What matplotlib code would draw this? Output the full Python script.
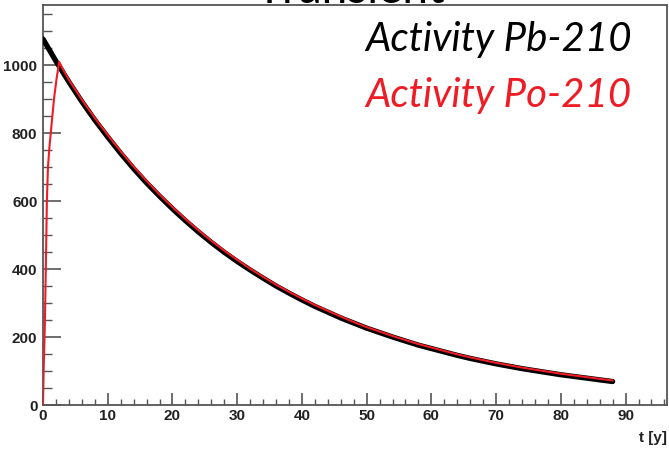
import matplotlib
matplotlib.use("Agg")
import matplotlib.pyplot as plt
from matplotlib.ticker import MultipleLocator

# time in years
t_pb = [0, 2, 4, 6, 8, 10, 12, 14, 16, 18, 20, 22, 24, 26, 28, 30, 32, 34, 36, 38,
        40, 42, 44, 46, 48, 50, 52, 54, 56, 58, 60, 62, 64, 66, 68, 70, 72, 74, 76,
        78, 80, 82, 84, 86, 88]
# activity Pb-210
act_pb = [1076, 1011, 950, 892, 838, 788, 740, 695, 653, 614, 577, 542, 509, 478, 449,
          422, 397, 373, 350, 329, 309, 290, 273, 256, 241, 226, 213, 200, 188, 176,
          166, 156, 146, 137, 129, 121, 114, 107, 101, 95, 89, 84, 79, 74, 69]

# activity Po-210: fast ingrowth, then follows Pb-210
t_po = [0, 0.1, 0.3, 0.45, 0.6, 0.77, 1.0, 1.2, 1.5, 1.7, 2.1, 2.5, 3, 4, 6, 8, 10, 12,
        14, 16, 18, 20, 22, 24, 26, 28, 30, 32, 34, 36, 38, 40, 42, 44, 46, 48, 50, 52,
        54, 56, 58, 60, 62, 64, 66, 68, 70, 72, 74, 76, 78, 80, 82, 84, 86, 88]
act_po = [0, 100, 250, 420, 600, 700, 760, 800, 860, 900, 960, 1009, 990, 956, 898, 844,
          794, 746, 701, 659, 619, 582, 547, 514, 483, 454, 427, 401, 377, 354, 333, 313,
          294, 277, 260, 244, 229, 216, 203, 191, 179, 169, 159, 149, 140, 132, 124, 117,
          110, 104, 98, 92, 87, 82, 77, 72]

fig = plt.figure(figsize=(6.69, 4.52), dpi=100)
ax = fig.add_axes([43 / 669, 46 / 452, 624 / 669, 400.3 / 452])

ax.plot(t_pb, act_pb, color='black', lw=3.8, solid_capstyle='round', zorder=3)
ax.plot(t_po, act_po, color='#ee1c25', lw=1.5, solid_capstyle='round', zorder=4)

ax.set_xlim(0, 96.4)
ax.set_ylim(0, 1177)

ax.xaxis.set_major_locator(MultipleLocator(10))
ax.xaxis.set_minor_locator(MultipleLocator(2))
ax.yaxis.set_major_locator(MultipleLocator(200))
ax.yaxis.set_minor_locator(MultipleLocator(50))

frame_col = '#555555'
for s in ax.spines.values():
    s.set_color(frame_col)
    s.set_linewidth(1.3)

ax.tick_params(axis='x', which='major', direction='in', length=8.6, width=1.2,
               color=frame_col, pad=2)
ax.tick_params(axis='x', which='minor', direction='in', length=4.3, width=1.0,
               color=frame_col)
ax.tick_params(axis='y', which='major', direction='in', length=13, width=1.2,
               color=frame_col, pad=4)
ax.tick_params(axis='y', which='minor', direction='in', length=6.5, width=1.0,
               color=frame_col)

for lab in ax.get_xticklabels() + ax.get_yticklabels():
    lab.set_fontfamily('Liberation Sans')
    lab.set_fontweight('bold')
    lab.set_fontsize(11)
    lab.set_color('#222222')

fig.text(667 / 669, 1 - 438 / 452, 't [y]', ha='right', va='center',
         family='Liberation Sans', fontweight='bold', fontsize=11, color='#222222')

# title, mostly cut off at the top edge
fig.text(350 / 669, 1 - 3 / 452, 'Transient', ha='center', va='baseline',
         family='Lato', fontsize=33, color='black')

fig.text(632 / 669, 1 - 51 / 452, 'Activity Pb-210', ha='right', va='baseline',
         family='Lato', style='italic', fontsize=29, color='black')
fig.text(632 / 669, 1 - 107 / 452, 'Activity Po-210', ha='right', va='baseline',
         family='Lato', style='italic', fontsize=29, color='#ee1c25')

fig.savefig('out.png', dpi=100)
